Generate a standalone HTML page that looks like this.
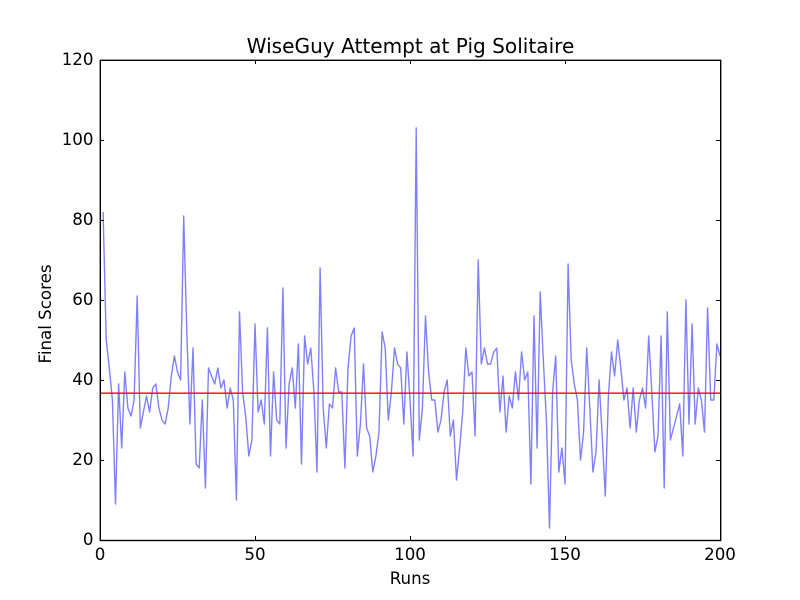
<!DOCTYPE html>
<html>
<head>
<meta charset="utf-8">
<title>WiseGuy Attempt at Pig Solitaire</title>
<style>
html,body{margin:0;padding:0;background:#fff;}
svg{display:block;}
text{font-family:"DejaVu Sans","Liberation Sans",sans-serif;fill:#000;}
</style>
</head>
<body>
<svg id="chart" xmlns="http://www.w3.org/2000/svg" width="800" height="600" viewBox="0 0 800 600">
  <defs><clipPath id="plot-clip"><rect x="100" y="60" width="620" height="480"/></clipPath></defs>
  <rect x="0" y="0" width="800" height="600" fill="#fff"/>
  <polyline id="score-line" fill="none" stroke="#0000ff" stroke-opacity="0.5" stroke-width="1.39" stroke-linejoin="round" clip-path="url(#plot-clip)"/>
  <line id="mean-line" stroke="#ff0000" stroke-width="1.39" clip-path="url(#plot-clip)"/>
  <g id="ticks"></g>
  <rect x="100.3" y="60.3" width="620.4" height="480.2" fill="none" stroke="#000" stroke-width="1.39"/>
  <text x="410.5" y="53" font-size="20.1" text-anchor="middle">WiseGuy Attempt at Pig Solitaire</text>
  <text x="410" y="584" font-size="16.67" text-anchor="middle">Runs</text>
  <text transform="translate(51 314) rotate(-90)" font-size="16.67" text-anchor="middle">Final Scores</text>
</svg>
<script>
const runs_start = 1;
const scores = [82,50,43,35,9,39,23,42,33,31,35,61,28,32,36,32,38,39,33,30,29,33,41,46,42,40,81,52,29,48,19,18,35,13,43,41,39,43,38,40,33,38,35,10,57,37,31,21,25,54,32,35,29,53,21,42,30,29,63,23,39,43,33,49,19,51,44,48,37,17,68,33,23,34,33,43,37,37,18,43,51,53,21,29,44,28,26,17,21,27,52,48,30,37,48,44,43,29,47,35,21,103,25,33,56,42,35,35,27,30,37,40,26,30,15,23,32,48,41,42,26,70,44,48,44,44,47,48,32,41,27,36,33,42,35,47,40,42,14,56,23,62,45,30,3,37,46,17,23,14,69,45,39,35,20,27,48,33,17,22,40,26,11,36,47,41,50,43,35,38,28,38,27,35,38,33,51,37,22,26,51,13,57,25,28,31,34,21,60,29,54,29,38,35,27,58,35,35,49,46];
const meanScore = 36.7;
const xTicks = [0,50,100,150,200];
const yTicks = [0,20,40,60,80,100,120];
const xMin = 0, xMax = 200, yMin = 0, yMax = 120;

const NS = 'http://www.w3.org/2000/svg';
const left = 100, right = 720, top_ = 60, bottom = 540;
function xScale(v){ return left + (v - xMin) / (xMax - xMin) * (right - left); }
function yScale(v){ return bottom - (v - yMin) / (yMax - yMin) * (bottom - top_); }

document.getElementById('score-line').setAttribute('points',
  scores.map(function(s, i){ return xScale(i + runs_start).toFixed(2) + ',' + yScale(s).toFixed(2); }).join(' '));

const mean = document.getElementById('mean-line');
mean.setAttribute('x1', xScale(xMin));
mean.setAttribute('x2', xScale(xMax));
mean.setAttribute('y1', yScale(meanScore));
mean.setAttribute('y2', yScale(meanScore));

const tickGroup = document.getElementById('ticks');
function addTick(x1, y1, x2, y2, name){
  const t = document.createElementNS(NS, 'line');
  t.setAttribute('x1', x1);
  t.setAttribute('y1', y1);
  t.setAttribute('x2', x2);
  t.setAttribute('y2', y2);
  t.setAttribute('stroke', '#000');
  t.setAttribute('stroke-width', '1');
  
  
  tickGroup.appendChild(t);
}
function addLabel(x, y, anchor, str, name){
  const t = document.createElementNS(NS, 'text');
  t.setAttribute('x', x);
  t.setAttribute('y', y);
  t.setAttribute('font-size', '16.67');
  t.setAttribute('text-anchor', anchor);
  
  
  t.textContent = str;
  tickGroup.appendChild(t);
}
xTicks.forEach(function(v){
  const x = Math.round(xScale(v)) + 0.5;
  addTick(x, bottom, x, bottom - 4, 'x-tick');
  addTick(x, top_, x, top_ + 4, 'x-tick-top');
  addLabel(xScale(v), 560, 'middle', String(v), 'x-tick-label');
});
yTicks.forEach(function(v){
  const y = Math.round(yScale(v)) + 0.5;
  addTick(left, y, left + 4, y, 'y-tick');
  addTick(right, y, right - 4, y, 'y-tick-right');
  addLabel(93.5, yScale(v) + 5, 'end', String(v), 'y-tick-label');
});
</script>
</body>
</html>
